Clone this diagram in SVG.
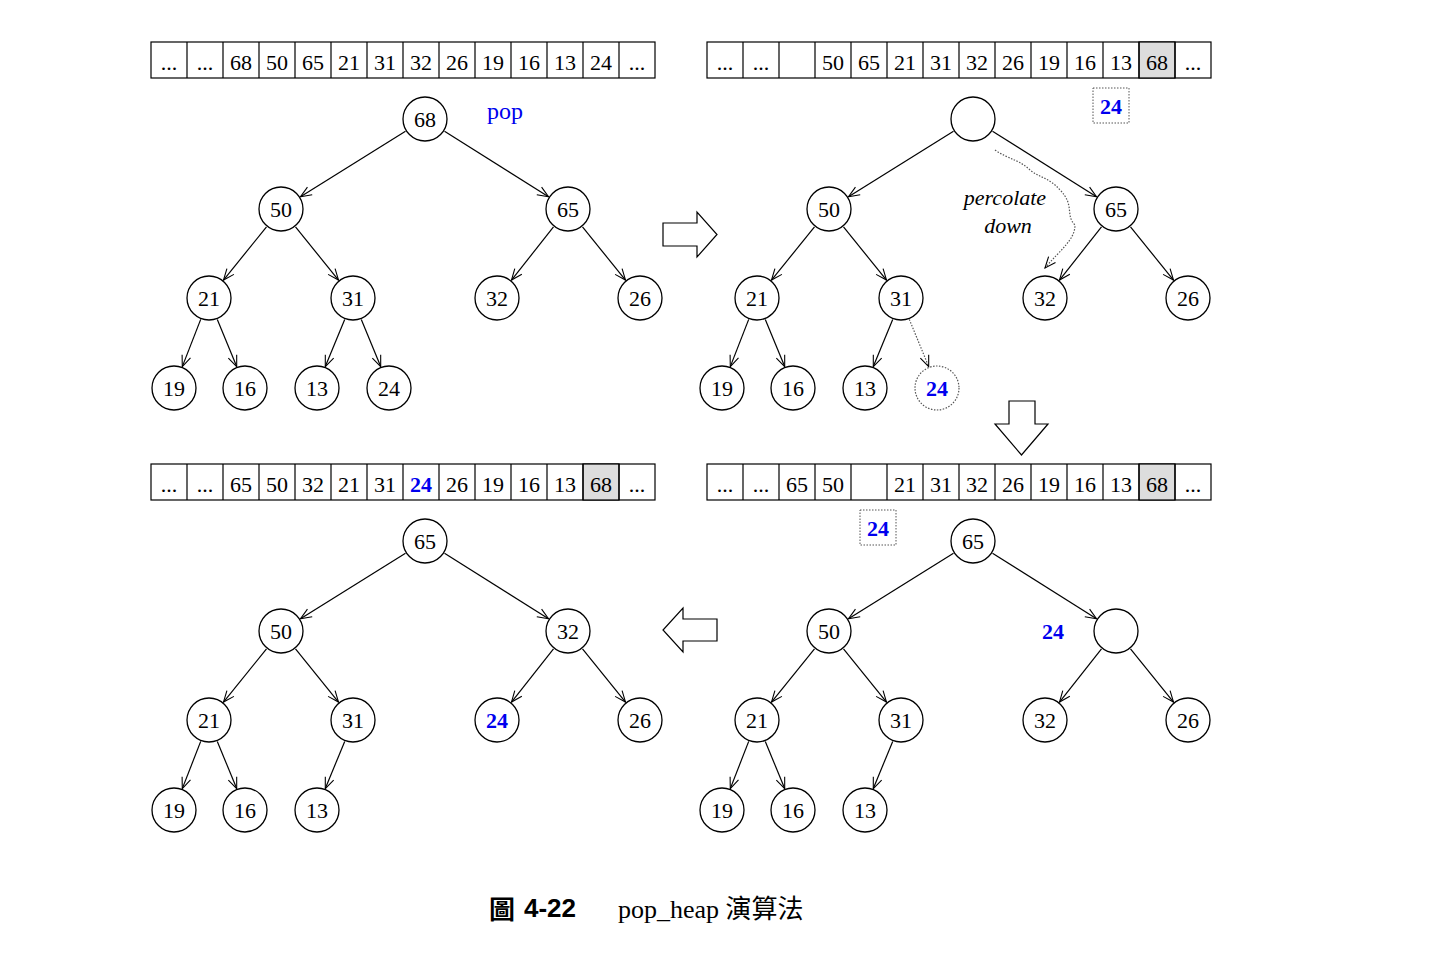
<svg xmlns="http://www.w3.org/2000/svg" width="1450" height="954" viewBox="0 0 1450 954">
<style>
.c{fill:#fff;stroke:#000;stroke-width:1.3}
.cd{fill:#fff;stroke:#555;stroke-width:1.2;stroke-dasharray:1.5 1.5}
.t{font-family:"Liberation Serif",serif;font-size:22px;text-anchor:middle;fill:#000}
.b{font-family:"Liberation Serif",serif;font-size:22px;font-weight:bold;text-anchor:middle;fill:#0000ee}
.cell{fill:#fff;stroke:#000;stroke-width:1.2}
.g{fill:#ddd;stroke:#000;stroke-width:1.2}
.e{stroke:#000;stroke-width:1.2;fill:none;marker-end:url(#a)}
.ed{stroke:#555;stroke-width:1.2;fill:none;stroke-dasharray:1.5 1.5;marker-end:url(#a)}
.bx{fill:#fff;stroke:#555;stroke-width:1;stroke-dasharray:1.5 1.5}
.ba{fill:#fff;stroke:#000;stroke-width:1.2}
</style>
<defs>
<marker id="a" markerUnits="userSpaceOnUse" markerWidth="14" markerHeight="12" refX="0" refY="0" viewBox="-12 -6 14 12" orient="auto"><path d="M-11,-4.5 L0,0 L-11,4.5" fill="none" stroke="#000" stroke-width="1.1"/></marker>
</defs>
<rect width="1450" height="954" fill="#fff"/>

<!-- arrays -->
<g id="array1">
<rect class="cell" x="151" y="42" width="504" height="36"/>
<g class="t">
<text x="169" y="70">...</text><text x="205" y="70">...</text><text x="241" y="70">68</text><text x="277" y="70">50</text><text x="313" y="70">65</text><text x="349" y="70">21</text><text x="385" y="70">31</text><text x="421" y="70">32</text><text x="457" y="70">26</text><text x="493" y="70">19</text><text x="529" y="70">16</text><text x="565" y="70">13</text><text x="601" y="70">24</text><text x="637" y="70">...</text>
</g>
<path d="M187,42v36M223,42v36M259,42v36M295,42v36M331,42v36M367,42v36M403,42v36M439,42v36M475,42v36M511,42v36M547,42v36M583,42v36M619,42v36" stroke="#000" stroke-width="1.2"/>
</g>
<g id="array2">
<rect class="cell" x="707" y="42" width="504" height="36"/>
<rect class="g" x="1139" y="42" width="36" height="36"/>
<g class="t">
<text x="725" y="70">...</text><text x="761" y="70">...</text><text x="833" y="70">50</text><text x="869" y="70">65</text><text x="905" y="70">21</text><text x="941" y="70">31</text><text x="977" y="70">32</text><text x="1013" y="70">26</text><text x="1049" y="70">19</text><text x="1085" y="70">16</text><text x="1121" y="70">13</text><text x="1157" y="70">68</text><text x="1193" y="70">...</text>
</g>
<path d="M743,42v36M779,42v36M815,42v36M851,42v36M887,42v36M923,42v36M959,42v36M995,42v36M1031,42v36M1067,42v36M1103,42v36M1139,42v36M1175,42v36" stroke="#000" stroke-width="1.2"/>
</g>
<g id="array3">
<rect class="cell" x="151" y="464" width="504" height="36"/>
<rect class="g" x="583" y="464" width="36" height="36"/>
<g class="t">
<text x="169" y="492">...</text><text x="205" y="492">...</text><text x="241" y="492">65</text><text x="277" y="492">50</text><text x="313" y="492">32</text><text x="349" y="492">21</text><text x="385" y="492">31</text><text x="421" y="492" class="b">24</text><text x="457" y="492">26</text><text x="493" y="492">19</text><text x="529" y="492">16</text><text x="565" y="492">13</text><text x="601" y="492">68</text><text x="637" y="492">...</text>
</g>
<path d="M187,464v36M223,464v36M259,464v36M295,464v36M331,464v36M367,464v36M403,464v36M439,464v36M475,464v36M511,464v36M547,464v36M583,464v36M619,464v36" stroke="#000" stroke-width="1.2"/>
</g>
<g id="array4">
<rect class="cell" x="707" y="464" width="504" height="36"/>
<rect class="g" x="1139" y="464" width="36" height="36"/>
<g class="t">
<text x="725" y="492">...</text><text x="761" y="492">...</text><text x="797" y="492">65</text><text x="833" y="492">50</text><text x="905" y="492">21</text><text x="941" y="492">31</text><text x="977" y="492">32</text><text x="1013" y="492">26</text><text x="1049" y="492">19</text><text x="1085" y="492">16</text><text x="1121" y="492">13</text><text x="1157" y="492">68</text><text x="1193" y="492">...</text>
</g>
<path d="M743,464v36M779,464v36M815,464v36M851,464v36M887,464v36M923,464v36M959,464v36M995,464v36M1031,464v36M1067,464v36M1103,464v36M1139,464v36M1175,464v36" stroke="#000" stroke-width="1.2"/>
</g>

<!-- connectors -->
<g id="connectors">
<g id="edges1">
<path class="e" d="M405.5,131.2L300.5,196.8"/><path class="e" d="M444.5,131.2L548.5,196.8"/>
<path class="e" d="M266.5,226.9L223.5,280.1"/><path class="e" d="M295.5,226.9L338.5,280.1"/>
<path class="e" d="M553.5,226.9L511.5,280.1"/><path class="e" d="M582.5,226.9L625.5,280.1"/>
<path class="e" d="M200.7,319.4L182.3,366.6"/><path class="e" d="M217.3,319.4L236.7,366.6"/>
<path class="e" d="M344.7,319.4L325.3,366.6"/><path class="e" d="M361.3,319.4L380.7,366.6"/>
</g>
<g id="edges2" transform="translate(548,0)">
<path class="e" d="M405.5,131.2L300.5,196.8"/><path class="e" d="M444.5,131.2L548.5,196.8"/>
<path class="e" d="M266.5,226.9L223.5,280.1"/><path class="e" d="M295.5,226.9L338.5,280.1"/>
<path class="e" d="M553.5,226.9L511.5,280.1"/><path class="e" d="M582.5,226.9L625.5,280.1"/>
<path class="e" d="M200.7,319.4L182.3,366.6"/><path class="e" d="M217.3,319.4L236.7,366.6"/>
<path class="e" d="M344.7,319.4L325.3,366.6"/><path class="ed" d="M361.3,319.4L380.7,366.6"/>
</g>
<path class="ed" d="M995,150 C1010,160 1020,160 1030,170 C1040,178 1050,178 1060,190 C1075,205 1065,215 1075,225 C1075,240 1060,250 1045,268"/>
<g id="edges3" transform="translate(548,422)">
<path class="e" d="M405.5,131.2L300.5,196.8"/><path class="e" d="M444.5,131.2L548.5,196.8"/>
<path class="e" d="M266.5,226.9L223.5,280.1"/><path class="e" d="M295.5,226.9L338.5,280.1"/>
<path class="e" d="M553.5,226.9L511.5,280.1"/><path class="e" d="M582.5,226.9L625.5,280.1"/>
<path class="e" d="M200.7,319.4L182.3,366.6"/><path class="e" d="M217.3,319.4L236.7,366.6"/>
<path class="e" d="M344.7,319.4L325.3,366.6"/>
</g>
<g id="edges4" transform="translate(0,422)">
<path class="e" d="M405.5,131.2L300.5,196.8"/><path class="e" d="M444.5,131.2L548.5,196.8"/>
<path class="e" d="M266.5,226.9L223.5,280.1"/><path class="e" d="M295.5,226.9L338.5,280.1"/>
<path class="e" d="M553.5,226.9L511.5,280.1"/><path class="e" d="M582.5,226.9L625.5,280.1"/>
<path class="e" d="M200.7,319.4L182.3,366.6"/><path class="e" d="M217.3,319.4L236.7,366.6"/>
<path class="e" d="M344.7,319.4L325.3,366.6"/>
</g>
</g>

<!-- panel 1 nodes -->
<g id="p1">
<g id="n1_68"><circle class="c" cx="425" cy="119" r="22"/><text class="t" x="425" y="127">68</text></g>
<g id="n1_50"><circle class="c" cx="281" cy="209" r="22"/><text class="t" x="281" y="217">50</text></g>
<g id="n1_65"><circle class="c" cx="568" cy="209" r="22"/><text class="t" x="568" y="217">65</text></g>
<g id="n1_21"><circle class="c" cx="209" cy="298" r="22"/><text class="t" x="209" y="306">21</text></g>
<g id="n1_31"><circle class="c" cx="353" cy="298" r="22"/><text class="t" x="353" y="306">31</text></g>
<g id="n1_32"><circle class="c" cx="497" cy="298" r="22"/><text class="t" x="497" y="306">32</text></g>
<g id="n1_26"><circle class="c" cx="640" cy="298" r="22"/><text class="t" x="640" y="306">26</text></g>
<g id="n1_19"><circle class="c" cx="174" cy="388" r="22"/><text class="t" x="174" y="396">19</text></g>
<g id="n1_16"><circle class="c" cx="245" cy="388" r="22"/><text class="t" x="245" y="396">16</text></g>
<g id="n1_13"><circle class="c" cx="317" cy="388" r="22"/><text class="t" x="317" y="396">13</text></g>
<g id="n1_24"><circle class="c" cx="389" cy="388" r="22"/><text class="t" x="389" y="396">24</text></g>
<text x="487" y="119" font-family="Liberation Serif,serif" font-size="24" fill="#0000ee">pop</text>
</g>

<!-- panel 2 nodes -->
<g id="p2">
<g id="n2_root"><circle class="c" cx="973" cy="119" r="22"/></g>
<g id="n2_50"><circle class="c" cx="829" cy="209" r="22"/><text class="t" x="829" y="217">50</text></g>
<g id="n2_65"><circle class="c" cx="1116" cy="209" r="22"/><text class="t" x="1116" y="217">65</text></g>
<g id="n2_21"><circle class="c" cx="757" cy="298" r="22"/><text class="t" x="757" y="306">21</text></g>
<g id="n2_31"><circle class="c" cx="901" cy="298" r="22"/><text class="t" x="901" y="306">31</text></g>
<g id="n2_32"><circle class="c" cx="1045" cy="298" r="22"/><text class="t" x="1045" y="306">32</text></g>
<g id="n2_26"><circle class="c" cx="1188" cy="298" r="22"/><text class="t" x="1188" y="306">26</text></g>
<g id="n2_19"><circle class="c" cx="722" cy="388" r="22"/><text class="t" x="722" y="396">19</text></g>
<g id="n2_16"><circle class="c" cx="793" cy="388" r="22"/><text class="t" x="793" y="396">16</text></g>
<g id="n2_13"><circle class="c" cx="865" cy="388" r="22"/><text class="t" x="865" y="396">13</text></g>
<g id="n2_24"><circle class="cd" cx="937" cy="388" r="22"/><text class="b" x="937" y="396">24</text></g>
<g id="box2"><rect class="bx" x="1093" y="88" width="36" height="35"/><text class="b" x="1111" y="114">24</text></g>
<text x="1005" y="205" font-family="Liberation Serif,serif" font-size="22" font-style="italic" text-anchor="middle">percolate</text>
<text x="1008" y="233" font-family="Liberation Serif,serif" font-size="22" font-style="italic" text-anchor="middle">down</text>
</g>

<!-- panel 3 (bottom right) -->
<g id="p3">
<g id="n3_65"><circle class="c" cx="973" cy="541" r="22"/><text class="t" x="973" y="549">65</text></g>
<g id="n3_50"><circle class="c" cx="829" cy="631" r="22"/><text class="t" x="829" y="639">50</text></g>
<g id="n3_hole"><circle class="c" cx="1116" cy="631" r="22"/></g>
<g id="n3_21"><circle class="c" cx="757" cy="720" r="22"/><text class="t" x="757" y="728">21</text></g>
<g id="n3_31"><circle class="c" cx="901" cy="720" r="22"/><text class="t" x="901" y="728">31</text></g>
<g id="n3_32"><circle class="c" cx="1045" cy="720" r="22"/><text class="t" x="1045" y="728">32</text></g>
<g id="n3_26"><circle class="c" cx="1188" cy="720" r="22"/><text class="t" x="1188" y="728">26</text></g>
<g id="n3_19"><circle class="c" cx="722" cy="810" r="22"/><text class="t" x="722" y="818">19</text></g>
<g id="n3_16"><circle class="c" cx="793" cy="810" r="22"/><text class="t" x="793" y="818">16</text></g>
<g id="n3_13"><circle class="c" cx="865" cy="810" r="22"/><text class="t" x="865" y="818">13</text></g>
<g id="box3"><rect class="bx" x="860" y="510" width="36" height="35"/><text class="b" x="878" y="536">24</text></g>
<text class="b" x="1053" y="639">24</text>
</g>

<!-- panel 4 (bottom left) -->
<g id="p4">
<g id="n4_65"><circle class="c" cx="425" cy="541" r="22"/><text class="t" x="425" y="549">65</text></g>
<g id="n4_50"><circle class="c" cx="281" cy="631" r="22"/><text class="t" x="281" y="639">50</text></g>
<g id="n4_32"><circle class="c" cx="568" cy="631" r="22"/><text class="t" x="568" y="639">32</text></g>
<g id="n4_21"><circle class="c" cx="209" cy="720" r="22"/><text class="t" x="209" y="728">21</text></g>
<g id="n4_31"><circle class="c" cx="353" cy="720" r="22"/><text class="t" x="353" y="728">31</text></g>
<g id="n4_24"><circle class="c" cx="497" cy="720" r="22"/><text class="b" x="497" y="728">24</text></g>
<g id="n4_26"><circle class="c" cx="640" cy="720" r="22"/><text class="t" x="640" y="728">26</text></g>
<g id="n4_19"><circle class="c" cx="174" cy="810" r="22"/><text class="t" x="174" y="818">19</text></g>
<g id="n4_16"><circle class="c" cx="245" cy="810" r="22"/><text class="t" x="245" y="818">16</text></g>
<g id="n4_13"><circle class="c" cx="317" cy="810" r="22"/><text class="t" x="317" y="818">13</text></g>
</g>

<!-- block arrows -->
<g id="arrows">
<path class="ba" d="M663,223H697V212L717,234.5L697,257V246H663Z"/>
<path class="ba" d="M1009,401H1035V424H1048L1021.5,455L995,424H1009Z"/>
<path class="ba" d="M717,619H683V608L663,630L683,652V641H717Z"/>
</g>

<!-- caption -->
<g id="caption">
<text x="489" y="919" font-family="Noto Sans CJK TC,sans-serif" font-size="26" font-weight="bold">圖</text>
<text x="524" y="917" font-family="Liberation Sans,sans-serif" font-size="26" font-weight="bold">4-22</text>
<text x="618" y="918" font-family="Liberation Serif,Noto Sans CJK TC,serif" font-size="26">pop_heap <tspan font-family="Noto Sans CJK TC,serif">演算法</tspan></text>
</g>
</svg>
